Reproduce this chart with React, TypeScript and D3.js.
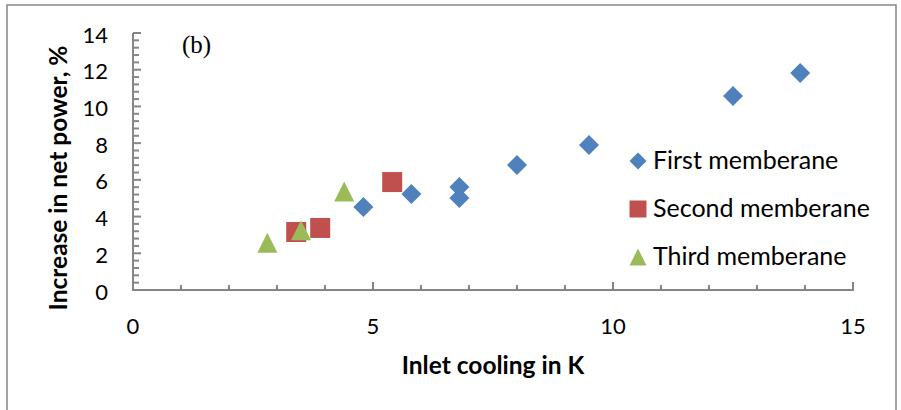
import React from "react";
import * as d3 from "d3";

const firstX = [4.8, 5.8, 6.8, 6.8, 8.0, 9.5, 12.5, 13.9];
const firstY = [4.52, 5.23, 5.61, 5.01, 6.81, 7.9, 10.57, 11.82];
const secondX = [3.4, 3.9, 5.4];
const secondY = [3.16, 3.38, 5.88];
const thirdX = [2.8, 3.5, 4.4];
const thirdY = [2.58, 3.25, 5.37];

const xTicks = [0, 5, 10, 15];
const yTicks = [0, 2, 4, 6, 8, 10, 12, 14];
const seriesNames = ["First memberane", "Second memberane", "Third memberane"];
const colors = ["#4F81BD", "#C0504D", "#9BBB59"];

const W = 901;
const H = 410;
const FONT = "Lato, 'Liberation Sans', sans-serif";

export default function App() {
  const x = d3.scaleLinear().domain([0, 15]).range([133, 853]);
  const y = d3.scaleLinear().domain([0, 14]).range([290, 33]);
  const axisColor = "#868686";

  const symbolPath = (kind: number, size: number) => {
    const h = size / 2;
    if (kind === 0) return `M0,${-h}L${h},0L0,${h}L${-h},0Z`;
    if (kind === 1) return `M${-h},${-h}H${h}V${h}H${-h}Z`;
    return `M0,${-h}L${h},${h}L${-h},${h}Z`;
  };

  const series = [
    { xs: firstX, ys: firstY },
    { xs: secondX, ys: secondY },
    { xs: thirdX, ys: thirdY },
  ];

  const xMinor = d3.range(0, 15.001, 1);
  const yMinor = d3.range(0, 14.001, 0.4);

  return (
    <svg
      width={W}
      height={H}
      style={{ position: "absolute", left: 0, top: 0, background: "#fff" }}
    >
      <rect x={0} y={0} width={W} height={H} fill="#fff" />
      <rect x={7} y={5} width={889} height={430} fill="none" stroke={axisColor} strokeWidth={1.5} />

      {yMinor.map((v, i) => {
        const major = Math.abs(v / 2 - Math.round(v / 2)) < 1e-6;
        return (
          <line
            key={"ym" + i}
            x1={x(0)}
            x2={x(0) + (major ? 8 : 6)}
            y1={y(v)}
            y2={y(v)}
            stroke={axisColor}
            strokeWidth={2}
          />
        );
      })}
      {xMinor.map((v, i) => {
        const major = v % 5 === 0;
        return (
          <line
            key={"xm" + i}
            x1={x(v)}
            x2={x(v)}
            y1={y(0)}
            y2={y(0) - (major ? 8 : 5)}
            stroke={axisColor}
            strokeWidth={2}
          />
        );
      })}
      <line x1={x(0)} x2={x(0)} y1={y(0) + 1} y2={y(14)} stroke={axisColor} strokeWidth={2} />
      <line x1={x(0)} x2={x(15) + 1} y1={y(0)} y2={y(0)} stroke={axisColor} strokeWidth={2} />

      {yTicks.map((v) => (
        <text
          key={"yt" + v}
          x={108}
          y={y(v) + 1}
          textAnchor="end"
          dominantBaseline="central"
          fontFamily={FONT}
          fontSize={22}
          fill="#000"
        >
          {v}
        </text>
      ))}
      {xTicks.map((v) => (
        <text
          key={"xt" + v}
          x={x(v)}
          y={334}
          textAnchor="middle"
          fontFamily={FONT}
          fontSize={22}
          fill="#000"
        >
          {v}
        </text>
      ))}

      <text
        x={x(7.5)}
        y={374}
        textAnchor="middle"
        fontFamily={FONT}
        fontWeight="bold"
        fontSize={24.5}
        fill="#000"
      >
        Inlet cooling in K
      </text>
      <text
        transform={`translate(67,178) rotate(-90)`}
        textAnchor="middle"
        fontFamily={FONT}
        fontWeight="bold"
        fontSize={24.5}
        fill="#000"
      >
        Increase in net power, %
      </text>

      <text x={182} y={53} fontFamily="'Liberation Serif', 'Times New Roman', serif" fontSize={25} fill="#000">
        (b)
      </text>

      {series.map((s, si) =>
        s.xs.map((xv, i) => (
          <path
            key={"p" + si + "-" + i}
            d={symbolPath(si, 20)}
            transform={`translate(${x(xv)},${y(s.ys[i])})`}
            fill={colors[si]}
          />
        ))
      )}

      {seriesNames.map((name, i) => (
        <g key={"lg" + i} transform={`translate(638,${161 + i * 48})`}>
          <path d={symbolPath(i, 17)} fill={colors[i]} />
          <text x={15} y={8} fontFamily={FONT} fontSize={25} fill="#000">
            {name}
          </text>
        </g>
      ))}
    </svg>
  );
}
